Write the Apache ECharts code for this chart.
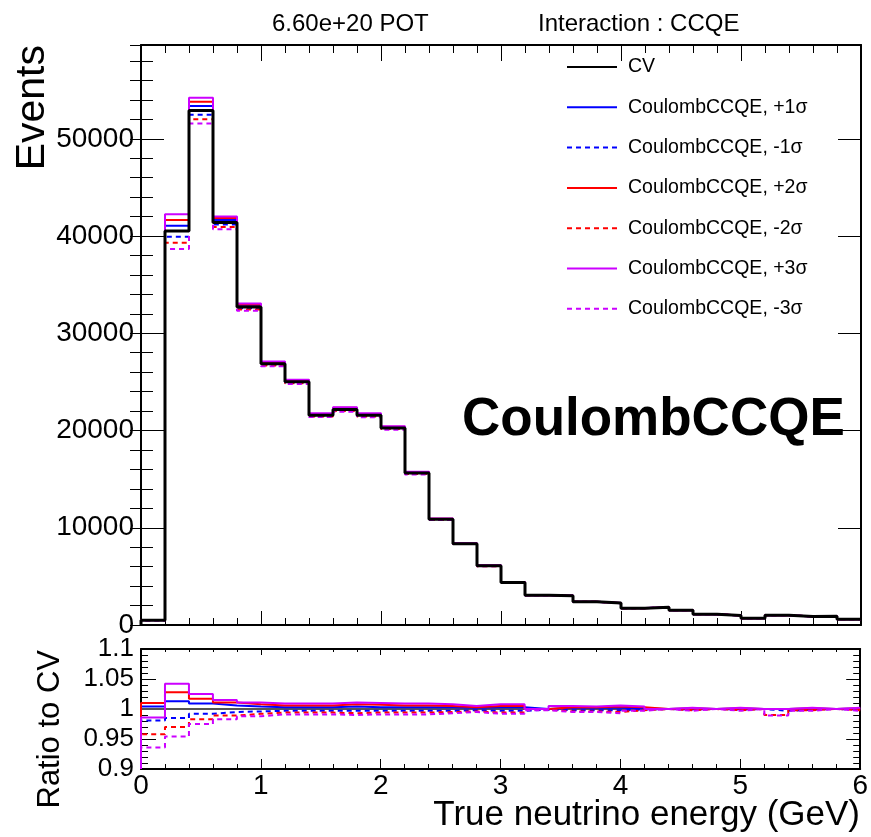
<!DOCTYPE html>
<html>
<head>
<meta charset="utf-8">
<script src="https://cdn.jsdelivr.net/npm/echarts@6/dist/echarts.min.js"></script>
<style>
  html, body { margin: 0; padding: 0; background: #fff; }
  #chart { width: 871px; height: 837px; }
</style>
</head>
<body>
<div id="chart"></div>
<script>
// True neutrino energy bin edges (GeV)
const binEdges = [0.0, 0.2, 0.4, 0.6, 0.8, 1.0, 1.2, 1.4, 1.6, 1.8, 2.0, 2.2, 2.4, 2.6, 2.8, 3.0,
                  3.2, 3.4, 3.6, 3.8, 4.0, 4.2, 4.4, 4.6, 4.8, 5.0, 5.2, 5.4, 5.6, 5.8, 6.0];

// Central value event counts per bin
const cvEvents = [500, 40530, 52910, 41400, 32700, 26860, 25010, 21580, 22160, 21560,
                  20270, 15630, 10870, 8360, 6090, 4380, 3070, 3010, 2390, 2250,
                  1730, 1830, 1520, 1110, 980, 700, 1010, 880, 910, 600];

// Ratio of each CoulombCCQE variation to CV, per bin
const ratioP1 = [1.004, 1.013, 1.009, 1.006, 1.004, 1.003, 1.003, 1.003, 1.004, 1.003,
                 1.003, 1.003, 1.003, 1.002, 1.003, 1.003, 1.000, 1.002, 1.002, 1.002,
                 1.001, 1.000, 1.001, 1.000, 1.001, 1.000, 1.000, 1.001, 1.000, 1.001];
const ratioM1 = [0.981, 0.985, 0.992, 0.995, 0.996, 0.997, 0.997, 0.997, 0.997, 0.997,
                 0.997, 0.997, 0.997, 0.998, 0.997, 0.997, 0.999, 0.998, 0.998, 0.998,
                 0.999, 1.000, 0.999, 1.000, 0.999, 1.000, 0.997, 0.999, 1.000, 0.999];
const ratioP2 = [1.010, 1.028, 1.017, 1.011, 1.008, 1.006, 1.006, 1.006, 1.008, 1.007,
                 1.006, 1.006, 1.005, 1.003, 1.005, 1.005, 1.000, 1.003, 1.003, 1.004,
                 1.003, 1.000, 1.001, 1.000, 1.001, 1.000, 1.000, 1.001, 1.000, 1.001];
const ratioM2 = [0.958, 0.970, 0.983, 0.989, 0.992, 0.994, 0.994, 0.994, 0.993, 0.994,
                 0.994, 0.994, 0.995, 0.996, 0.994, 0.994, 0.999, 0.996, 0.996, 0.995,
                 0.998, 1.000, 0.998, 1.000, 0.998, 1.000, 0.990, 0.998, 1.000, 0.998];
const ratioP3 = [0.986, 1.042, 1.025, 1.015, 1.011, 1.009, 1.009, 1.009, 1.011, 1.010,
                 1.009, 1.009, 1.008, 1.005, 1.008, 1.008, 1.000, 1.005, 1.004, 1.006,
                 1.004, 1.000, 1.002, 1.000, 1.002, 1.000, 1.000, 1.002, 1.000, 1.002];
const ratioM3 = [0.936, 0.954, 0.975, 0.983, 0.988, 0.991, 0.991, 0.991, 0.990, 0.991,
                 0.991, 0.991, 0.993, 0.995, 0.992, 0.992, 0.998, 0.995, 0.995, 0.993,
                 0.997, 1.000, 0.997, 1.000, 0.997, 1.000, 0.989, 0.997, 1.000, 0.997];

// Axis tick labels
const xTickLabels = ['0', '1', '2', '3', '4', '5', '6'];
const eventTickLabels = ['0', '10000', '20000', '30000', '40000', '50000'];
const ratioTickLabels = ['0.9', '0.95', '1', '1.05', '1.1'];

const variations = [
  { name: 'CoulombCCQE, +1σ', ratio: ratioP1, color: '#0000ff', dashed: false },
  { name: 'CoulombCCQE, -1σ', ratio: ratioM1, color: '#0000ff', dashed: true },
  { name: 'CoulombCCQE, +2σ', ratio: ratioP2, color: '#ff0000', dashed: false },
  { name: 'CoulombCCQE, -2σ', ratio: ratioM2, color: '#ff0000', dashed: true },
  { name: 'CoulombCCQE, +3σ', ratio: ratioP3, color: '#cc00ff', dashed: false },
  { name: 'CoulombCCQE, -3σ', ratio: ratioM3, color: '#cc00ff', dashed: true }
];

const FONT = "'Liberation Sans', Arial, Helvetica, sans-serif";
const EVENTS_MAX = 59650;
const RATIO_MIN = 0.9, RATIO_MAX = 1.1;
const DASH = [5, 4];

// Histogram outline as step points: rise from the floor at the first edge,
// then one point per bin at its low edge, closed at the last edge.
function histPoints(values, floor) {
  const pts = [[binEdges[0], floor]];
  values.forEach((v, i) => pts.push([binEdges[i], v]));
  pts.push([binEdges[binEdges.length - 1], values[values.length - 1]]);
  return pts;
}

function frameAxis(extra) {
  return Object.assign({
    type: 'value',
    axisLine: { show: true, onZero: false, lineStyle: { color: '#000', width: 2 } },
    splitLine: { show: false },
    axisLabel: { show: false },
    axisTick: { show: true, inside: true, lineStyle: { color: '#000', width: 1 } },
    minorTick: { show: false },
    minorSplitLine: { show: false }
  }, extra);
}

function tick(len) {
  return { show: true, inside: true, length: len, lineStyle: { color: '#000', width: 1 } };
}
function minor(len) {
  return { show: true, splitNumber: 5, length: len, lineStyle: { color: '#000', width: 1 } };
}

const xAxes = [
  // upper pad, bottom edge
  frameAxis({ gridIndex: 0, position: 'bottom', min: 0, max: 6, interval: 1,
              axisTick: tick(14), minorTick: minor(7) }),
  // upper pad, top edge
  frameAxis({ gridIndex: 0, position: 'top', min: 0, max: 6, interval: 1,
              axisTick: tick(16), minorTick: minor(8) }),
  // ratio pad, bottom edge with energy labels
  frameAxis({ gridIndex: 1, position: 'bottom', min: 0, max: 6, interval: 1,
              axisTick: tick(10), minorTick: minor(5),
              axisLabel: { show: true, color: '#000', fontFamily: FONT, fontSize: 28, margin: 3,
                           formatter: v => xTickLabels[Math.round(v)] } }),
  // ratio pad, top edge
  frameAxis({ gridIndex: 1, position: 'top', min: 0, max: 6, interval: 1,
              axisTick: tick(6), minorTick: minor(3) })
];

const yAxes = [
  // upper pad, left: major ticks + labels
  frameAxis({ gridIndex: 0, position: 'left', min: 0, max: EVENTS_MAX, interval: 10000,
              axisTick: tick(23),
              axisLabel: { show: true, color: '#000', fontFamily: FONT, fontSize: 28, margin: 7,
                           showMaxLabel: false,
                           formatter: v => eventTickLabels[Math.round(v / 10000)] || '' } }),
  // upper pad, left: minor ticks every 2000
  frameAxis({ gridIndex: 0, position: 'left', min: 0, max: EVENTS_MAX, interval: 2000,
              axisLine: { show: false }, axisTick: tick(12) }),
  // upper pad, right: major ticks
  frameAxis({ gridIndex: 0, position: 'right', min: 0, max: EVENTS_MAX, interval: 10000,
              axisTick: tick(23) }),
  // upper pad, right: minor ticks
  frameAxis({ gridIndex: 0, position: 'right', min: 0, max: EVENTS_MAX, interval: 2000,
              axisLine: { show: false }, axisTick: tick(11) }),
  // ratio pad, left with labels
  frameAxis({ gridIndex: 1, position: 'left', min: RATIO_MIN, max: RATIO_MAX, interval: 0.05,
              axisTick: tick(15), minorTick: minor(7),
              axisLabel: { show: true, color: '#000', fontFamily: FONT, fontSize: 26, margin: 7,
                           formatter: v => ratioTickLabels[Math.round((v - RATIO_MIN) / 0.05)] || '' } }),
  // ratio pad, right
  frameAxis({ gridIndex: 1, position: 'right', min: RATIO_MIN, max: RATIO_MAX, interval: 0.05,
              axisTick: tick(14), minorTick: minor(7) })
];

const series = [];

// Upper pad: variations first, CV drawn last on top
variations.forEach(v => {
  series.push({
    name: v.name, type: 'line', xAxisIndex: 0, yAxisIndex: 0,
    step: 'end', symbol: 'none', animation: false,
    lineStyle: { color: v.color, width: 2, type: v.dashed ? DASH : 'solid' },
    itemStyle: { color: v.color },
    data: histPoints(cvEvents.map((c, i) => c * v.ratio[i]), 0)
  });
});
series.push({
  name: 'CV', type: 'line', xAxisIndex: 0, yAxisIndex: 0,
  step: 'end', symbol: 'none', animation: false,
  lineStyle: { color: '#000', width: 3 },
  itemStyle: { color: '#000' },
  data: histPoints(cvEvents, 0)
});

// Ratio pad: CV/CV reference first, then the variations
series.push({
  name: 'CV / CV', type: 'line', xAxisIndex: 2, yAxisIndex: 4,
  step: 'end', symbol: 'none', animation: false,
  lineStyle: { color: '#555', width: 2 },
  data: histPoints(cvEvents.map(() => 1), RATIO_MIN)
});
variations.forEach(v => {
  series.push({
    name: v.name + ' / CV', type: 'line', xAxisIndex: 2, yAxisIndex: 4,
    step: 'end', symbol: 'none', animation: false,
    lineStyle: { color: v.color, width: 2, type: v.dashed ? DASH : 'solid' },
    data: histPoints(v.ratio, RATIO_MIN)
  });
});

const legendNames = ['CV'].concat(variations.map(v => v.name));

const option = {
  backgroundColor: '#fff',
  animation: false,
  grid: [
    { left: 141, top: 45, width: 720, height: 580 },
    { left: 141, top: 649, width: 720, height: 120 }
  ],
  xAxis: xAxes,
  yAxis: yAxes,
  legend: {
    data: legendNames,
    orient: 'vertical',
    left: 566, top: 57, padding: 0,
    itemWidth: 50, itemHeight: 20, itemGap: 20.3,
    selectedMode: false,
    itemStyle: { opacity: 0 },
    lineStyle: { width: 2 },
    textStyle: { color: '#000', fontFamily: FONT, fontSize: 19.5, lineHeight: 20, padding: [0, 0, 0, 6] }
  },
  graphic: [
    { type: 'text', left: 272, top: 12,
      style: { text: '6.60e+20 POT', fill: '#000', font: `24px ${FONT}` } },
    { type: 'text', left: 538, top: 12,
      style: { text: 'Interaction : CCQE', fill: '#000', font: `24px ${FONT}` } },
    { type: 'text', x: 462, y: 420,
      style: { text: 'CoulombCCQE', fill: '#000', font: `bold 53px ${FONT}`, verticalAlign: 'middle' } },
    { type: 'text', x: 860, y: 815,
      style: { text: 'True neutrino energy (GeV)', fill: '#000', font: `35px ${FONT}`,
               align: 'right', verticalAlign: 'middle' } },
    { type: 'text', x: 33, y: 45, rotation: Math.PI / 2,
      style: { text: 'Events', fill: '#000', font: `41px ${FONT}`, align: 'right', verticalAlign: 'middle' } },
    { type: 'text', x: 50, y: 650, rotation: Math.PI / 2,
      style: { text: 'Ratio to CV', fill: '#000', font: `31px ${FONT}`, align: 'right', verticalAlign: 'middle' } }
  ],
  series: series
};

const chart = echarts.init(document.getElementById('chart'), null, { renderer: 'canvas' });
chart.setOption(option);
</script>
</body>
</html>
